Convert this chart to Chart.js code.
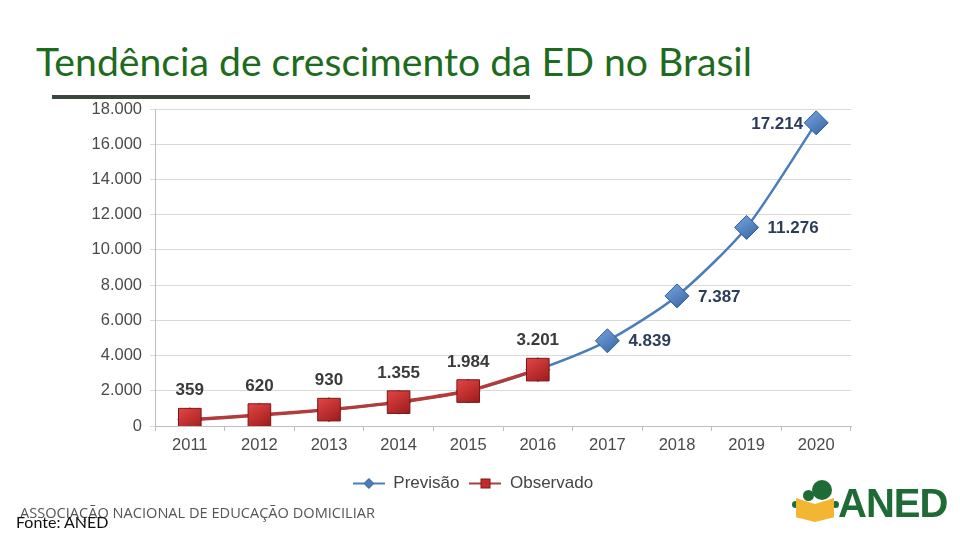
<!DOCTYPE html>
<html>
<head>
<meta charset="utf-8">
<script src="https://cdn.jsdelivr.net/npm/chart.js@4/dist/chart.umd.min.js"></script>
<style>
  html, body { margin:0; padding:0; background:#fff; }
  #wrap { position:relative; width:960px; height:540px; overflow:hidden; }
  #title { position:absolute; left:36px; top:38px; font-family:Lato, 'Open Sans', sans-serif; font-size:38px; color:#1d6b1d; white-space:nowrap; transform-origin:0 0; }
  #rule { position:absolute; left:52px; top:95px; width:478px; height:4px; background:#3b463d; }
  #chartBox { position:absolute; left:0; top:0; width:960px; height:540px; }
  #assoc { position:absolute; left:20px; top:503px; font-family:'Open Sans', Lato, sans-serif; font-size:14px; color:#555; white-space:nowrap; transform-origin:0 0; }
  #fonte { position:absolute; left:16px; top:512px; font-family:Lato, sans-serif; font-size:16px; color:#111; white-space:nowrap; }
  #logo { position:absolute; left:790px; top:478px; width:160px; height:52px; }
  #logo .c { position:absolute; border-radius:50%; background:#1f6b35; }
  #logo .book { position:absolute; left:6px; top:20px; width:38px; height:24px; background:#f2b632; clip-path:polygon(0 0,50% 25%,100% 0,100% 80%,50% 100%,0 80%); }
  #logo .txt { position:absolute; left:48px; top:3px; font-family:'Liberation Sans', Arial, sans-serif; font-weight:bold; font-size:40px; color:#1f6b35; letter-spacing:-1px; }
</style>
</head>
<body>
<div id="wrap">
  <div id="title">Tendência de crescimento da ED no Brasil</div>
  <div id="rule"></div>
  <div id="chartBox"><canvas id="chart"></canvas></div>
  <div id="assoc">ASSOCIAÇÃO NACIONAL DE EDUCAÇÃO DOMICILIAR</div>
  <div id="fonte">Fonte: ANED</div>
  <div id="logo">
    <div class="c" style="left:22px;top:2px;width:20px;height:20px"></div>
    <div class="c" style="left:13px;top:12px;width:11px;height:11px"></div>
    <div class="c" style="left:2px;top:23px;width:7px;height:7px"></div>
    <div class="c" style="left:42px;top:23px;width:7px;height:7px"></div>
    <div class="book"></div>
    <div class="txt">ANED</div>
  </div>
</div>
<script>
const anos = ['2011','2012','2013','2014','2015','2016','2017','2018','2019','2020'];
const previsao = [359, 620, 930, 1355, 1984, 3201, 4839, 7387, 11276, 17214];
const observado = [359, 620, 930, 1355, 1984, 3201, null, null, null, null];
const yTicks = [0, 2000, 4000, 6000, 8000, 10000, 12000, 14000, 16000, 18000];

function fmt(v){ return String(v).replace(/\B(?=(\d{3})+(?!\d))/g, '.'); }

// ajusta largura do título e do rodapé
function fitWidth(id, w){
  const el = document.getElementById(id);
  el.style.transform = 'scaleX(' + (w / el.getBoundingClientRect().width) + ')';
}
fitWidth('title', 716);
fitWidth('assoc', 355);

const AZUL = '#4a7ebb', AZUL_ESC = '#2e5c96';
const VERM = '#c42a2a', VERM_ESC = '#7e1616', LINHA_VERM = '#b23b3b';

// gradiente por ponto (efeito 3D dos marcadores)
function gradPonto(c1, c2){
  return ctx => {
    const ch = ctx.chart;
    if (!ch.scales.x || !ch.scales.y || ctx.parsed == null || ctx.parsed.y == null) return c1;
    const x = ch.scales.x.getPixelForValue(ctx.dataIndex);
    const y = ch.scales.y.getPixelForValue(ctx.parsed.y);
    if (!isFinite(x) || !isFinite(y)) return c1;
    const g = ch.ctx.createLinearGradient(x - 8, y - 12, x + 8, y + 12);
    g.addColorStop(0, c1); g.addColorStop(1, c2);
    return g;
  };
}

function legendIcon(kind){
  const c = document.createElement('canvas');
  c.width = 32; c.height = 14;
  const g = c.getContext('2d');
  g.strokeStyle = kind === 'd' ? AZUL : LINHA_VERM;
  g.lineWidth = 2;
  g.beginPath(); g.moveTo(0,7); g.lineTo(32,7); g.stroke();
  if (kind === 'd') {
    g.fillStyle = AZUL; g.strokeStyle = AZUL_ESC; g.lineWidth = 1;
    g.beginPath(); g.moveTo(16,2); g.lineTo(21,7); g.lineTo(16,12); g.lineTo(11,7); g.closePath(); g.fill(); g.stroke();
  } else {
    g.fillStyle = VERM; g.strokeStyle = VERM_ESC; g.lineWidth = 1;
    g.fillRect(11,2,10,10); g.strokeRect(11.5,2.5,9,9);
  }
  return c;
}

// rótulos de valor
const rotulos = {
  id: 'rotulos',
  afterLayout(chart){
    // centraliza a legenda sob a área do gráfico
    if (chart.legend) { chart.legend.left += 10; chart.legend.right += 10; }
  },
  afterDatasetsDraw(chart){
    const ctx = chart.ctx;
    ctx.save();
    ctx.font = 'bold 17px "Liberation Sans", Arial, sans-serif';
    ctx.textBaseline = 'middle';
    const mObs = chart.getDatasetMeta(1);
    observado.forEach((v,i) => {
      if (v == null) return;
      const p = mObs.data[i];
      ctx.fillStyle = '#3a3a3a'; ctx.textAlign = 'center';
      ctx.fillText(fmt(v), p.x, p.y - 29);
    });
    const mPrev = chart.getDatasetMeta(0);
    previsao.forEach((v,i) => {
      if (observado[i] != null) return;
      const p = mPrev.data[i];
      ctx.fillStyle = '#2c3d5c';
      if (i === previsao.length - 1) { ctx.textAlign = 'right'; ctx.fillText(fmt(v), p.x - 13, p.y + 1); }
      else { ctx.textAlign = 'left'; ctx.fillText(fmt(v), p.x + 21, p.y + 1); }
    });
    ctx.restore();
  }
};

new Chart(document.getElementById('chart'), {
  type: 'line',
  data: {
    labels: anos,
    datasets: [
      { label:'Previsão', data:previsao, order:1, borderColor:AZUL, borderWidth:2.5, tension:0.25,
        pointStyle:'rectRot', pointRadius:12, pointHoverRadius:12,
        pointBackgroundColor:gradPonto('#74a2dc', '#3a68a6'), pointBorderColor:AZUL_ESC, pointBorderWidth:1 },
      { label:'Observado', data:observado, order:0, borderColor:LINHA_VERM, borderWidth:3.5, tension:0.15,
        pointStyle:'rect', pointRadius:16, pointHoverRadius:16,
        pointBackgroundColor:gradPonto('#e04444', '#a01c1c'), pointBorderColor:VERM_ESC, pointBorderWidth:1 }
    ]
  },
  options: {
    responsive:true, maintainAspectRatio:false, animation:false,
    layout:{ padding:{ left:75, right:109, top:109, bottom:38 } },
    plugins:{
      tooltip:{ enabled:false },
      legend:{
        position:'bottom',
        labels:{
          usePointStyle:true, pointStyleWidth:32, padding:10, color:'#444',
          font:{ family:'"Liberation Sans", Arial, sans-serif', size:17 },
          generateLabels(chart){
            return chart.data.datasets.map((ds,i) => ({
              text: ds.label, datasetIndex:i, hidden:false,
              pointStyle: legendIcon(i === 0 ? 'd' : 's'),
              fontColor:'#444', lineWidth:0, strokeStyle:'transparent', fillStyle:'transparent'
            }));
          }
        }
      }
    },
    scales:{
      x:{
        offset:true,
        grid:{ offset:true, drawOnChartArea:false, drawTicks:true, tickLength:5, color:'#bdbdbd' },
        border:{ color:'#bdbdbd' },
        ticks:{ color:'#4a4a4a', padding:5, font:{ family:'"Liberation Sans", Arial, sans-serif', size:16.5 }, maxRotation:0 },
        afterFit(s){ s.height = 39; }
      },
      y:{
        min:0, max:18000,
        afterBuildTicks(s){ s.ticks = yTicks.map(v => ({ value:v })); },
        grid:{ color:'#d9d9d9', tickLength:5, lineWidth:1 },
        border:{ color:'#bdbdbd' },
        ticks:{ color:'#4a4a4a', padding:8, font:{ family:'"Liberation Sans", Arial, sans-serif', size:16.5 }, callback: v => fmt(v) },
        afterFit(s){ s.width = 80; }
      }
    }
  },
  plugins:[rotulos]
});
</script>
</body>
</html>
